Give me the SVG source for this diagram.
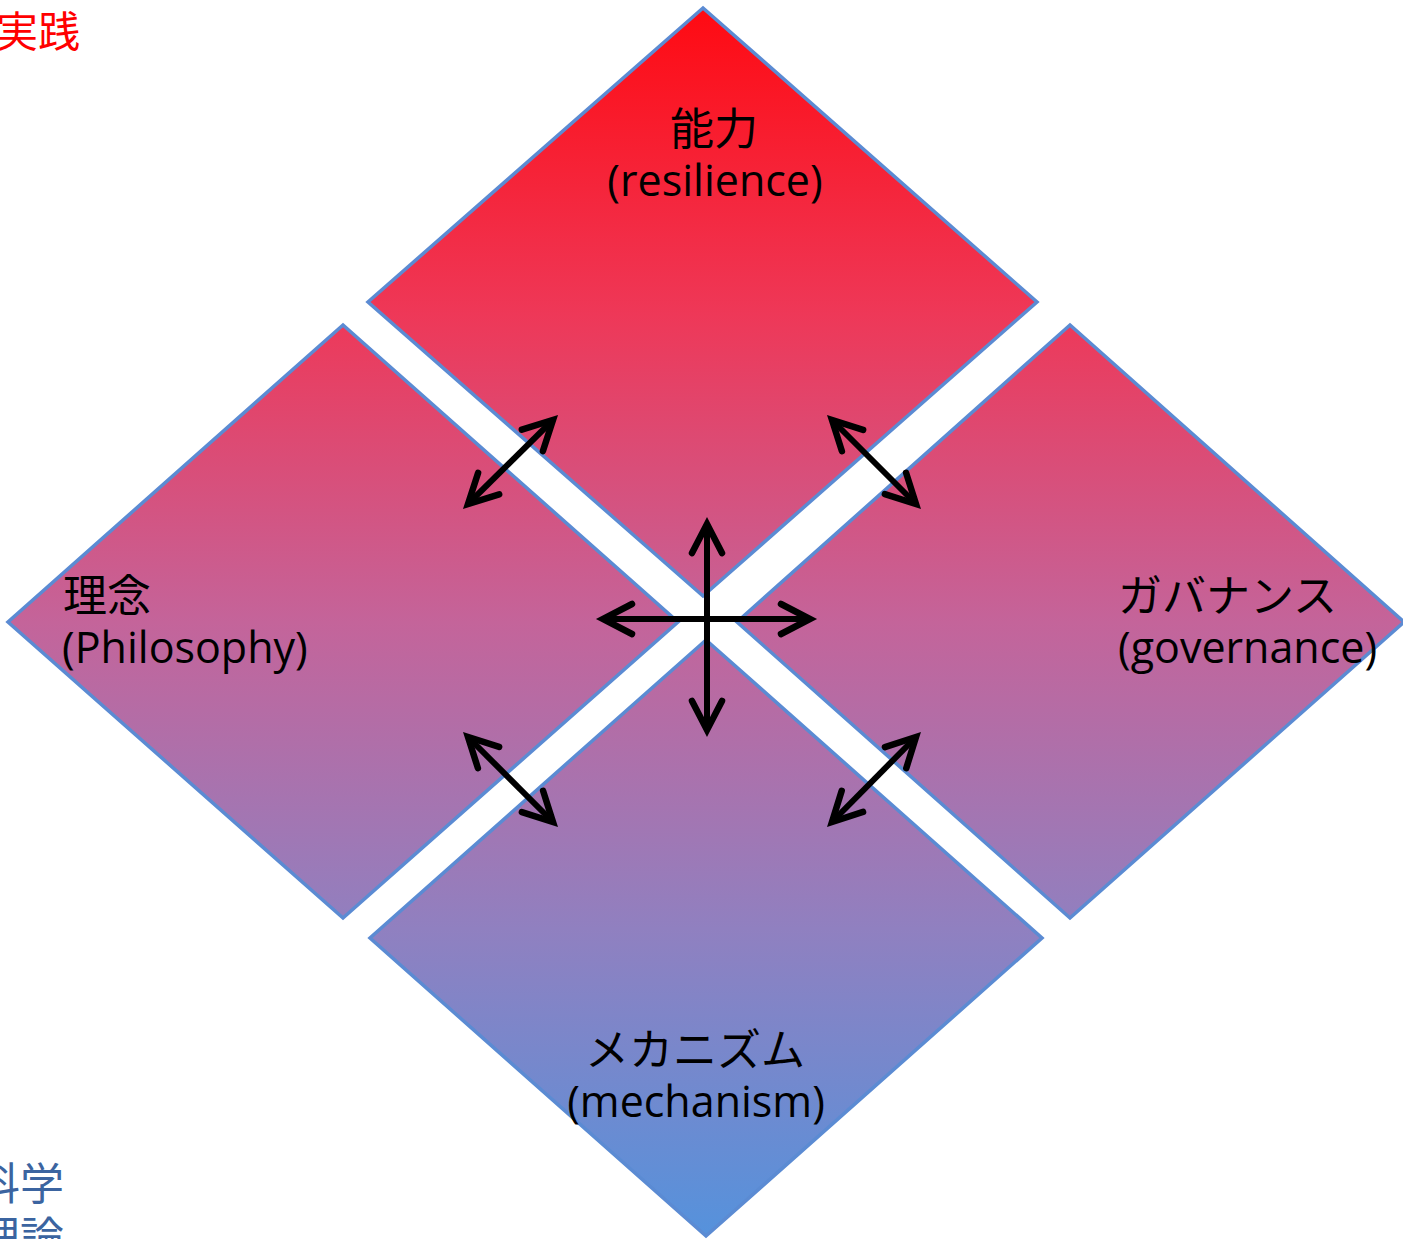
<svg xmlns="http://www.w3.org/2000/svg" width="1403" height="1239" viewBox="0 0 1403 1239">
  <defs>
    <linearGradient id="g" gradientUnits="userSpaceOnUse" x1="0" y1="8" x2="0" y2="1236">
      <stop offset="0" stop-color="#ff0a12"/>
      <stop offset="0.25" stop-color="#ee3858"/>
      <stop offset="0.5" stop-color="#c4649a"/>
      <stop offset="0.75" stop-color="#9080c0"/>
      <stop offset="1" stop-color="#5592dc"/>
    </linearGradient>
    <marker id="ah" markerUnits="userSpaceOnUse" markerWidth="60" markerHeight="60" refX="0" refY="0" viewBox="-40 -30 60 60" orient="auto-start-reverse" overflow="visible">
      <path d="M -29 -15 L 0 0 L -29 15" fill="none" stroke="#000" stroke-width="6.5" stroke-linecap="round" stroke-linejoin="miter"/>
    </marker>
  </defs>
  <style>
    .d { fill: url(#g); stroke: #5b8bd3; stroke-width: 3.5; stroke-linejoin: miter; }
    .a { stroke: #000; stroke-width: 6; fill: none; marker-start: url(#ah); marker-end: url(#ah); }
    .jp { font-family: "Noto Sans CJK JP", sans-serif; font-size: 44px; fill: #000; }
    .en { font-family: "Open Sans", sans-serif; font-size: 43px; fill: #000; }
  </style>
  <rect width="1403" height="1239" fill="#fff"/>

  <g id="node-top">
    <polygon class="d" points="703,8 1037,302 703,596 368,302"/>
    <text class="jp" x="714" y="145" text-anchor="middle">能力</text>
    <text class="en" x="715" y="196" text-anchor="middle">(resilience)</text>
  </g>
  <g id="node-left">
    <polygon class="d" points="343,325 678,622 343,918 8,622"/>
    <text class="jp" x="63" y="612">理念</text>
    <text class="en" x="62" y="663">(Philosophy)</text>
  </g>
  <g id="node-right">
    <polygon class="d" points="1070,325 1404,622 1070,918 737,622"/>
    <text class="jp" x="1118" y="612">ガバナンス</text>
    <text class="en" x="1118" y="663">(governance)</text>
  </g>
  <g id="node-bottom">
    <polygon class="d" points="706,640 1042,938 706,1236 370,938"/>
    <text class="jp" x="695" y="1066" text-anchor="middle">メカニズム</text>
    <text class="en" x="696" y="1117" text-anchor="middle">(mechanism)</text>
  </g>

  <g id="label-practice">
    <text x="-4" y="47" font-family="Noto Sans CJK JP, sans-serif" font-size="42" fill="#ff0000">実践</text>
  </g>
  <g id="label-science">
    <text x="-24" y="1200" font-family="Noto Sans CJK JP, sans-serif" font-size="44" fill="#3b64a0">科学</text>
    <text x="-24" y="1254" font-family="Noto Sans CJK JP, sans-serif" font-size="44" fill="#3b64a0">理論</text>
  </g>

  <g id="connectors">
    <line class="a" x1="707" y1="524" x2="707" y2="730"/>
    <line class="a" x1="603" y1="619" x2="810" y2="619"/>
    <line class="a" x1="468" y1="504" x2="553" y2="420"/>
    <line class="a" x1="832" y1="420" x2="916" y2="504"/>
    <line class="a" x1="468" y1="737" x2="553" y2="822"/>
    <line class="a" x1="916" y1="737" x2="832" y2="822"/>
  </g>
</svg>
